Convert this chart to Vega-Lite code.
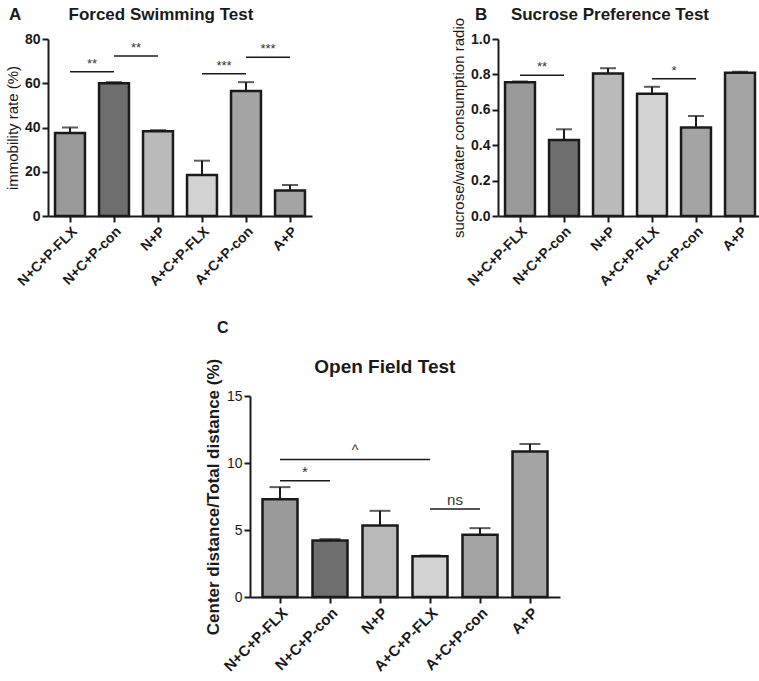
{
  "$schema": "https://vega.github.io/schema/vega-lite/v6.json",
  "background": "white",
  "padding": 5,
  "config": {
    "view": {"stroke": null},
    "font": "Liberation Sans",
    "axis": {"domainColor": "#1a1a1a", "domainWidth": 2, "tickColor": "#1a1a1a", "tickWidth": 2, "tickSize": 6, "labelColor": "#1a1a1a", "titleColor": "#1a1a1a", "grid": false, "labelPadding": 2, "labelOverlap": false}
  },
  "datasets": {
    "fst": [
      {"group": "N+C+P-FLX", "value": 37.5, "err": 40},
      {"group": "N+C+P-con", "value": 60, "err": 60.5},
      {"group": "N+P", "value": 38.3, "err": 38.8},
      {"group": "A+C+P-FLX", "value": 18.5, "err": 25},
      {"group": "A+C+P-con", "value": 56.5, "err": 60.5},
      {"group": "A+P", "value": 11.5, "err": 14}
    ],
    "fst_sig": [
      {"g1": "N+C+P-FLX", "g2": "N+C+P-con", "y": 65.2, "label": "**"},
      {"g1": "N+C+P-con", "g2": "N+P", "y": 72.3, "label": "**"},
      {"g1": "A+C+P-FLX", "g2": "A+C+P-con", "y": 64.3, "label": "***"},
      {"g1": "A+C+P-con", "g2": "A+P", "y": 71.7, "label": "***"}
    ],
    "spt": [
      {"group": "N+C+P-FLX", "value": 0.755, "err": 0.76},
      {"group": "N+C+P-con", "value": 0.43, "err": 0.49},
      {"group": "N+P", "value": 0.805, "err": 0.835},
      {"group": "A+C+P-FLX", "value": 0.69, "err": 0.73},
      {"group": "A+C+P-con", "value": 0.5, "err": 0.565},
      {"group": "A+P", "value": 0.81, "err": 0.815}
    ],
    "spt_sig": [
      {"g1": "N+C+P-FLX", "g2": "N+C+P-con", "y": 0.795, "label": "**"},
      {"g1": "A+C+P-FLX", "g2": "A+C+P-con", "y": 0.776, "label": "*"}
    ],
    "oft": [
      {"group": "N+C+P-FLX", "value": 7.3, "err": 8.2},
      {"group": "N+C+P-con", "value": 4.22, "err": 4.32},
      {"group": "N+P", "value": 5.33, "err": 6.43},
      {"group": "A+C+P-FLX", "value": 3.05, "err": 3.1},
      {"group": "A+C+P-con", "value": 4.65, "err": 5.14},
      {"group": "A+P", "value": 10.86, "err": 11.42}
    ],
    "oft_sig": [
      {"g1": "N+C+P-FLX", "g2": "N+C+P-con", "y": 8.68, "label": "*", "span": 1},
      {"g1": "N+C+P-FLX", "g2": "A+C+P-FLX", "y": 10.27, "label": "^", "span": 3},
      {"g1": "A+C+P-FLX", "g2": "A+C+P-con", "y": 6.57, "label": "ns", "span": 1}
    ]
  },
  "spacing": 31,
  "center": true,
  "vconcat": [
    {
      "spacing": 139,
      "hconcat": [
        {
          "width": 264,
          "height": 177,
          "title": {"text": "A\u00a0\u00a0\u00a0\u00a0\u00a0\u00a0\u00a0\u00a0\u00a0\u00a0Forced Swimming Test", "anchor": "start", "frame": "group", "dx": -39, "fontSize": 17, "fontWeight": "bold", "color": "#1a1a1a", "offset": 8},
          "layer": [
            {
              "data": {"name": "fst"},
              "mark": {"type": "bar", "stroke": "#1a1a1a", "strokeWidth": 2.5},
              "encoding": {
                "x": {"field": "group", "type": "nominal", "scale": {"domain": ["N+C+P-FLX", "N+C+P-con", "N+P", "A+C+P-FLX", "A+C+P-con", "A+P"], "paddingInner": 0.32, "paddingOuter": 0.16}, "axis": {"title": null, "labelAngle": -45, "labelFontSize": 14, "labelFontWeight": "bold"}},
                "y": {"field": "value", "type": "quantitative", "title": "immobility rate (%)", "scale": {"domain": [0, 80], "nice": false}, "axis": {"values": [0, 20, 40, 60, 80], "tickCount": 10, "labelOverlap": false, "titleFontSize": 15, "titleFontWeight": "normal", "labelFontSize": 14, "labelFontWeight": "bold"}},
                "fill": {"condition": [
                  {"test": "datum.group === 'N+C+P-FLX'", "value": "#9a9a9a"},
                  {"test": "datum.group === 'N+C+P-con'", "value": "#6e6e6e"},
                  {"test": "datum.group === 'N+P'", "value": "#bababa"},
                  {"test": "datum.group === 'A+C+P-FLX'", "value": "#d2d2d2"}
                ], "value": "#a4a4a4"}
              }
            },
            {
              "data": {"name": "fst"},
              "mark": {"type": "rule", "color": "#1a1a1a", "strokeWidth": 2},
              "encoding": {
                "x": {"field": "group", "type": "nominal"},
                "y": {"field": "value", "type": "quantitative", "title": "immobility rate (%)"},
                "y2": {"field": "err"}
              }
            },
            {
              "data": {"name": "fst"},
              "mark": {"type": "tick", "color": "#1a1a1a", "thickness": 2, "size": 16},
              "encoding": {
                "x": {"field": "group", "type": "nominal"},
                "y": {"field": "err", "type": "quantitative", "title": "immobility rate (%)"}
              }
            },
            {
              "data": {"name": "fst_sig"},
              "mark": {"type": "rule", "color": "#1a1a1a", "strokeWidth": 1.5},
              "encoding": {
                "x": {"field": "g1", "type": "nominal"},
                "x2": {"field": "g2"},
                "y": {"field": "y", "type": "quantitative", "title": "immobility rate (%)"}
              }
            },
            {
              "data": {"name": "fst_sig"},
              "mark": {"type": "text", "color": "#333333", "fontSize": 13, "baseline": "bottom", "dy": -1},
              "encoding": {
                "x": {"field": "g1", "type": "nominal", "bandPosition": 1.235},
                "y": {"field": "y", "type": "quantitative", "title": "immobility rate (%)"},
                "text": {"field": "label"}
              }
            }
          ]
        },
        {
          "width": 264,
          "height": 177,
          "title": {"text": "B\u00a0\u00a0\u00a0\u00a0\u00a0Sucrose Preference Test", "anchor": "start", "frame": "group", "dx": -23, "fontSize": 17, "fontWeight": "bold", "color": "#1a1a1a", "offset": -6.5},
          "layer": [
            {
              "data": {"name": "spt"},
              "mark": {"type": "bar", "stroke": "#1a1a1a", "strokeWidth": 2.5},
              "encoding": {
                "x": {"field": "group", "type": "nominal", "scale": {"domain": ["N+C+P-FLX", "N+C+P-con", "N+P", "A+C+P-FLX", "A+C+P-con", "A+P"], "paddingInner": 0.32, "paddingOuter": 0.16}, "axis": {"title": null, "labelAngle": -45, "labelFontSize": 14, "labelFontWeight": "bold"}},
                "y": {"field": "value", "type": "quantitative", "title": "sucrose/water consumption radio", "scale": {"domain": [0, 1], "nice": false}, "axis": {"values": [0, 0.2, 0.4, 0.6, 0.8, 1], "tickCount": 12, "labelOverlap": false, "labelExpr": "format(datum.value, '.1f')", "titleFontSize": 15, "titleFontWeight": "normal", "labelFontSize": 14, "labelFontWeight": "bold"}},
                "fill": {"condition": [
                  {"test": "datum.group === 'N+C+P-FLX'", "value": "#9a9a9a"},
                  {"test": "datum.group === 'N+C+P-con'", "value": "#6e6e6e"},
                  {"test": "datum.group === 'N+P'", "value": "#bababa"},
                  {"test": "datum.group === 'A+C+P-FLX'", "value": "#d2d2d2"}
                ], "value": "#a4a4a4"}
              }
            },
            {
              "data": {"name": "spt"},
              "mark": {"type": "rule", "color": "#1a1a1a", "strokeWidth": 2},
              "encoding": {
                "x": {"field": "group", "type": "nominal"},
                "y": {"field": "value", "type": "quantitative", "title": "sucrose/water consumption radio"},
                "y2": {"field": "err"}
              }
            },
            {
              "data": {"name": "spt"},
              "mark": {"type": "tick", "color": "#1a1a1a", "thickness": 2, "size": 16},
              "encoding": {
                "x": {"field": "group", "type": "nominal"},
                "y": {"field": "err", "type": "quantitative", "title": "sucrose/water consumption radio"}
              }
            },
            {
              "data": {"name": "spt_sig"},
              "mark": {"type": "rule", "color": "#1a1a1a", "strokeWidth": 1.5},
              "encoding": {
                "x": {"field": "g1", "type": "nominal"},
                "x2": {"field": "g2"},
                "y": {"field": "y", "type": "quantitative", "title": "sucrose/water consumption radio"}
              }
            },
            {
              "data": {"name": "spt_sig"},
              "mark": {"type": "text", "color": "#333333", "fontSize": 13, "baseline": "bottom", "dy": -1},
              "encoding": {
                "x": {"field": "g1", "type": "nominal", "bandPosition": 1.235},
                "y": {"field": "y", "type": "quantitative", "title": "sucrose/water consumption radio"},
                "text": {"field": "label"}
              }
            }
          ]
        }
      ]
    },
    {
      "width": 310,
      "height": 201,
      "title": {"text": "\u200b\u00a0\u00a0\u00a0\u00a0\u00a0\u00a0\u00a0\u00a0\u00a0C", "subtitle": "\u200b\u00a0\u00a0\u00a0\u00a0\u00a0\u00a0\u00a0\u00a0\u00a0\u00a0\u00a0\u00a0\u00a0\u00a0\u00a0\u00a0\u00a0\u00a0\u00a0\u00a0\u00a0\u00a0\u00a0\u00a0\u00a0\u00a0Open Field Test", "anchor": "start", "frame": "group", "dx": -73, "fontSize": 16, "fontWeight": "bold", "color": "#1a1a1a", "subtitleFontSize": 19, "subtitleFontWeight": "bold", "subtitleColor": "#1a1a1a", "subtitlePadding": 22, "offset": -19},
      "layer": [
        {
          "data": {"name": "oft"},
          "mark": {"type": "bar", "stroke": "#1a1a1a", "strokeWidth": 2.5},
          "encoding": {
            "x": {"field": "group", "type": "nominal", "scale": {"domain": ["N+C+P-FLX", "N+C+P-con", "N+P", "A+C+P-FLX", "A+C+P-con", "A+P"], "paddingInner": 0.3, "paddingOuter": 0.25}, "axis": {"title": null, "labelAngle": -45, "labelFontSize": 15, "labelFontWeight": "bold"}},
            "y": {"field": "value", "type": "quantitative", "title": "Center distance/Total distance (%)", "scale": {"domain": [0, 15], "nice": false}, "axis": {"values": [0, 5, 10, 15], "tickCount": 10, "labelOverlap": false, "titleFontSize": 17, "titleFontWeight": "bold", "labelFontSize": 14, "labelFontWeight": "normal"}},
            "fill": {"condition": [
              {"test": "datum.group === 'N+C+P-FLX'", "value": "#9a9a9a"},
              {"test": "datum.group === 'N+C+P-con'", "value": "#6e6e6e"},
              {"test": "datum.group === 'N+P'", "value": "#bababa"},
              {"test": "datum.group === 'A+C+P-FLX'", "value": "#d2d2d2"}
            ], "value": "#a4a4a4"}
          }
        },
        {
          "data": {"name": "oft"},
          "mark": {"type": "rule", "color": "#1a1a1a", "strokeWidth": 2},
          "encoding": {
            "x": {"field": "group", "type": "nominal"},
            "y": {"field": "value", "type": "quantitative", "title": "Center distance/Total distance (%)"},
            "y2": {"field": "err"}
          }
        },
        {
          "data": {"name": "oft"},
          "mark": {"type": "tick", "color": "#1a1a1a", "thickness": 2, "size": 21},
          "encoding": {
            "x": {"field": "group", "type": "nominal"},
            "y": {"field": "err", "type": "quantitative", "title": "Center distance/Total distance (%)"}
          }
        },
        {
          "data": {"name": "oft_sig"},
          "mark": {"type": "rule", "color": "#1a1a1a", "strokeWidth": 1.5},
          "encoding": {
            "x": {"field": "g1", "type": "nominal"},
            "x2": {"field": "g2"},
            "y": {"field": "y", "type": "quantitative", "title": "Center distance/Total distance (%)"}
          }
        },
        {
          "data": {"name": "oft_sig"},
          "transform": [{"filter": "datum.span === 1"}],
          "mark": {"type": "text", "color": "#333333", "fontSize": 15, "baseline": "bottom", "dy": -1},
          "encoding": {
            "x": {"field": "g1", "type": "nominal", "bandPosition": 1.214},
            "y": {"field": "y", "type": "quantitative", "title": "Center distance/Total distance (%)"},
            "text": {"field": "label"}
          }
        },
        {
          "data": {"name": "oft_sig"},
          "transform": [{"filter": "datum.span === 3"}],
          "mark": {"type": "text", "color": "#333333", "fontSize": 14, "baseline": "bottom", "dy": -1},
          "encoding": {
            "x": {"field": "g1", "type": "nominal", "bandPosition": 2.643},
            "y": {"field": "y", "type": "quantitative", "title": "Center distance/Total distance (%)"},
            "text": {"field": "label"}
          }
        }
      ]
    }
  ]
}
